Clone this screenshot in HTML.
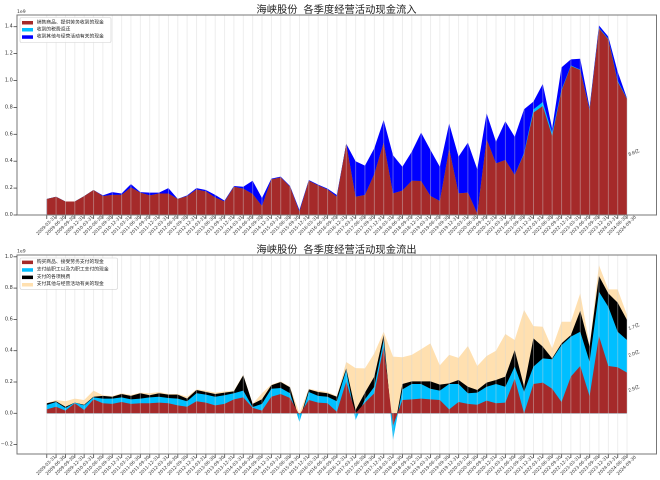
<!DOCTYPE html>
<html><head><meta charset="utf-8"><style>
html,body{margin:0;padding:0;background:#fff;overflow:hidden}
svg{display:block}
.t{font-family:"DejaVu Sans","Liberation Sans",sans-serif;fill:#333}
.cjk{font-family:"Liberation Sans","Noto Sans CJK SC","WenQuanYi Zen Hei",sans-serif}
</style></head><body>
<svg xmlns="http://www.w3.org/2000/svg" width="660" height="480" viewBox="0 0 660 480">
<defs>
<pattern id="grid" patternUnits="userSpaceOnUse" x="46.3" y="0" width="9.36" height="480"><rect x="0" y="0" width="0.8" height="480" fill="#d4d4d4"/></pattern>
<pattern id="tick" patternUnits="userSpaceOnUse" x="46.3" y="0" width="9.36" height="480"><rect x="0" y="0" width="0.8" height="480" fill="#444"/></pattern>
</defs>
<rect width="660" height="480" fill="#fff"/>

<!-- ============ TOP CHART ============ -->
<text class="cjk" x="336.5" y="13" font-size="10.3" text-anchor="middle" fill="#222">海峡股份&#160;&#160;各季度经营活动现金流入</text>
<g transform="translate(46.7,215) scale(9.36,-134.5)">
<polygon fill="#0000ff" points="0,0 0,.119 1,.136 2,.100 3,.100 4,.140 5,.186 6,.146 7,.170 8,.160 9,.230 10,.170 11,.166 12,.166 13,.200 14,.120 15,.146 16,.200 17,.186 18,.150 19,.107 20,.216 21,.210 22,.255 23,.126 24,.270 25,.285 26,.216 27,.037 28,.260 29,.226 30,.196 31,.149 32,.530 33,.400 34,.367 35,.496 36,.706 37,.444 38,.359 39,.470 40,.612 41,.483 42,.359 43,.680 44,.434 45,.538 46,.340 47,.756 48,.545 49,.696 50,.582 51,.786 52,.843 53,.974 54,.644 55,1.098 56,1.157 57,1.162 58,.800 59,1.410 60,1.326 61,1.066 62,.867 62,0"/>
<polygon fill="#00bfff" points="0,0 0,.119 1,.136 2,.100 3,.100 4,.140 5,.186 6,.140 7,.150 8,.150 9,.205 10,.166 11,.146 12,.160 13,.160 14,.120 15,.140 16,.190 17,.176 18,.130 19,.100 20,.210 21,.196 22,.156 23,.067 24,.265 25,.280 26,.210 27,.025 28,.255 29,.220 30,.190 31,.136 32,.530 33,.136 34,.149 35,.305 36,.538 37,.161 38,.181 39,.255 40,.253 41,.141 42,.104 43,.493 44,.161 45,.166 46,.012 47,.563 48,.384 49,.409 50,.297 51,.462 52,.785 53,.840 54,.610 55,.932 56,1.112 57,1.082 58,.784 59,1.392 60,1.310 61,1.000 62,.865 62,0"/>
<polygon fill="#a52a2a" points="0,0 0,.119 1,.136 2,.100 3,.100 4,.140 5,.186 6,.140 7,.150 8,.150 9,.205 10,.166 11,.146 12,.160 13,.160 14,.120 15,.140 16,.190 17,.176 18,.130 19,.100 20,.210 21,.196 22,.156 23,.067 24,.265 25,.280 26,.210 27,.025 28,.255 29,.220 30,.190 31,.136 32,.530 33,.136 34,.149 35,.305 36,.538 37,.161 38,.181 39,.255 40,.253 41,.141 42,.104 43,.493 44,.161 45,.166 46,.012 47,.563 48,.384 49,.409 50,.297 51,.454 52,.761 53,.810 54,.587 55,.924 56,1.108 57,1.078 58,.780 59,1.388 60,1.306 61,.991 62,.862 62,0"/>
</g>
<rect x="46" y="15" width="582" height="200" fill="url(#grid)" opacity="0.5"/>
<rect x="17" y="15" width="639.5" height="200" fill="none" stroke="#777" stroke-width="1"/>
<rect x="46" y="215.5" width="582" height="3.5" fill="url(#tick)"/>
<g stroke="#444" stroke-width="0.8">
<line x1="13.5" x2="17" y1="215" y2="215"/><line x1="13.5" x2="17" y1="188.1" y2="188.1"/><line x1="13.5" x2="17" y1="161.2" y2="161.2"/><line x1="13.5" x2="17" y1="134.3" y2="134.3"/><line x1="13.5" x2="17" y1="107.4" y2="107.4"/><line x1="13.5" x2="17" y1="80.5" y2="80.5"/><line x1="13.5" x2="17" y1="53.6" y2="53.6"/><line x1="13.5" x2="17" y1="26.7" y2="26.7"/>
</g>
<g class="t" font-size="5" text-anchor="end" dominant-baseline="central">
<text x="12.8" y="215">0.0</text><text x="12.8" y="188.1">0.2</text><text x="12.8" y="161.2">0.4</text><text x="12.8" y="134.3">0.6</text><text x="12.8" y="107.4">0.8</text><text x="12.8" y="80.5">1.0</text><text x="12.8" y="53.6">1.2</text><text x="12.8" y="26.7">1.4</text>
</g>
<text class="t" x="17" y="13" font-size="4.6">1e9</text>
<g class="t" font-size="4.4" text-anchor="middle" dominant-baseline="central">
<text transform="translate(46.70,226)rotate(-45)">2009-03-31</text><text transform="translate(56.06,226)rotate(-45)">2009-06-30</text><text transform="translate(65.42,226)rotate(-45)">2009-09-30</text><text transform="translate(74.78,226)rotate(-45)">2009-12-31</text><text transform="translate(84.14,226)rotate(-45)">2010-03-31</text><text transform="translate(93.50,226)rotate(-45)">2010-06-30</text><text transform="translate(102.86,226)rotate(-45)">2010-09-30</text><text transform="translate(112.22,226)rotate(-45)">2010-12-31</text><text transform="translate(121.58,226)rotate(-45)">2011-03-31</text><text transform="translate(130.94,226)rotate(-45)">2011-06-30</text><text transform="translate(140.30,226)rotate(-45)">2011-09-30</text><text transform="translate(149.66,226)rotate(-45)">2011-12-31</text><text transform="translate(159.02,226)rotate(-45)">2012-03-31</text><text transform="translate(168.38,226)rotate(-45)">2012-06-30</text><text transform="translate(177.74,226)rotate(-45)">2012-09-30</text><text transform="translate(187.10,226)rotate(-45)">2012-12-31</text><text transform="translate(196.46,226)rotate(-45)">2013-03-31</text><text transform="translate(205.82,226)rotate(-45)">2013-06-30</text><text transform="translate(215.18,226)rotate(-45)">2013-09-30</text><text transform="translate(224.54,226)rotate(-45)">2013-12-31</text><text transform="translate(233.90,226)rotate(-45)">2014-03-31</text><text transform="translate(243.26,226)rotate(-45)">2014-06-30</text><text transform="translate(252.62,226)rotate(-45)">2014-09-30</text><text transform="translate(261.98,226)rotate(-45)">2014-12-31</text><text transform="translate(271.34,226)rotate(-45)">2015-03-31</text><text transform="translate(280.70,226)rotate(-45)">2015-06-30</text><text transform="translate(290.06,226)rotate(-45)">2015-09-30</text><text transform="translate(299.42,226)rotate(-45)">2015-12-31</text><text transform="translate(308.78,226)rotate(-45)">2016-03-31</text><text transform="translate(318.14,226)rotate(-45)">2016-06-30</text><text transform="translate(327.50,226)rotate(-45)">2016-09-30</text><text transform="translate(336.86,226)rotate(-45)">2016-12-31</text><text transform="translate(346.22,226)rotate(-45)">2017-03-31</text><text transform="translate(355.58,226)rotate(-45)">2017-06-30</text><text transform="translate(364.94,226)rotate(-45)">2017-09-30</text><text transform="translate(374.30,226)rotate(-45)">2017-12-31</text><text transform="translate(383.66,226)rotate(-45)">2018-03-31</text><text transform="translate(393.02,226)rotate(-45)">2018-06-30</text><text transform="translate(402.38,226)rotate(-45)">2018-09-30</text><text transform="translate(411.74,226)rotate(-45)">2018-12-31</text><text transform="translate(421.10,226)rotate(-45)">2019-03-31</text><text transform="translate(430.46,226)rotate(-45)">2019-06-30</text><text transform="translate(439.82,226)rotate(-45)">2019-09-30</text><text transform="translate(449.18,226)rotate(-45)">2019-12-31</text><text transform="translate(458.54,226)rotate(-45)">2020-03-31</text><text transform="translate(467.90,226)rotate(-45)">2020-06-30</text><text transform="translate(477.26,226)rotate(-45)">2020-09-30</text><text transform="translate(486.62,226)rotate(-45)">2020-12-31</text><text transform="translate(495.98,226)rotate(-45)">2021-03-31</text><text transform="translate(505.34,226)rotate(-45)">2021-06-30</text><text transform="translate(514.70,226)rotate(-45)">2021-09-30</text><text transform="translate(524.06,226)rotate(-45)">2021-12-31</text><text transform="translate(533.42,226)rotate(-45)">2022-03-31</text><text transform="translate(542.78,226)rotate(-45)">2022-06-30</text><text transform="translate(552.14,226)rotate(-45)">2022-09-30</text><text transform="translate(561.50,226)rotate(-45)">2022-12-31</text><text transform="translate(570.86,226)rotate(-45)">2023-03-31</text><text transform="translate(580.22,226)rotate(-45)">2023-06-30</text><text transform="translate(589.58,226)rotate(-45)">2023-09-30</text><text transform="translate(598.94,226)rotate(-45)">2023-12-31</text><text transform="translate(608.30,226)rotate(-45)">2024-03-31</text><text transform="translate(617.66,226)rotate(-45)">2024-06-30</text><text transform="translate(627.02,226)rotate(-45)">2024-09-30</text>
</g>
<text class="t cjk" transform="translate(629,156)rotate(-20)" font-size="4.8" fill="#444">8.6亿</text>
<!-- legend top -->
<rect x="20" y="17.5" width="91" height="25" rx="1.5" fill="#fff" fill-opacity="0.85" stroke="#d0d0d0" stroke-width="0.6"/>
<rect x="22" y="21" width="11" height="3.5" fill="#a52a2a"/>
<rect x="22" y="28" width="11" height="3.5" fill="#00bfff"/>
<rect x="22" y="35.3" width="11" height="3.5" fill="#0000ff"/>
<g class="cjk" font-size="4.8" fill="#222" dominant-baseline="central">
<text x="36.7" y="22.8">销售商品、提供劳务收到的现金</text>
<text x="36.7" y="29.8">收到的税费返还</text>
<text x="36.7" y="37.1">收到其他与经营活动有关的现金</text>
</g>

<!-- ============ BOTTOM CHART ============ -->
<text class="cjk" x="336.5" y="253" font-size="10.3" text-anchor="middle" fill="#222">海峡股份&#160;&#160;各季度经营活动现金流出</text>
<g transform="translate(46.7,413.3) scale(9.36,-156.5)">
<polygon fill="#ffe0b0" points="0,0 0,.064 1,.085 2,.077 3,.094 4,.085 5,.145 6,.115 7,.110 8,.128 9,.117 10,.132 11,.128 12,.136 13,.123 14,.123 15,.106 16,.153 17,.145 18,.132 19,.140 20,.145 21,.247 22,.06 23,.128 24,.183 25,.204 26,.170 27,0 28,.157 29,.145 30,.136 31,.110 32,.328 33,.289 34,.287 35,.383 36,.521 37,.362 38,.358 39,.373 40,.409 41,.447 42,.306 43,.373 44,.354 45,.430 46,.302 47,.366 48,.400 49,.507 50,.468 51,.660 52,.557 53,.553 54,.415 55,.585 56,.585 57,.766 58,.437 59,.947 60,.792 61,.792 62,.628 62,0"/>
<polygon fill="#000000" points="0,0 0,.064 1,.077 2,.042 3,.068 4,.055 5,.106 6,.111 7,.106 8,.123 9,.111 10,.128 11,.115 12,.128 13,.119 14,.119 15,.094 16,.149 17,.136 18,.123 19,.132 20,.140 21,.243 22,.06 23,.09 24,.179 25,.200 26,.166 27,-.045 28,.153 29,.136 30,.128 31,.106 32,.287 33,.021 34,.132 35,.234 36,.500 37,-.15 38,.187 39,.204 40,.204 41,.204 42,.183 43,.191 44,.213 45,.170 46,.149 47,.196 48,.213 49,.234 50,.404 51,.170 52,.479 53,.426 54,.351 55,.447 56,.50 57,.655 58,.426 59,.877 60,.766 61,.707 62,.596 62,0"/>
<polygon fill="#00bfff" points="0,0 0,.053 1,.072 2,.034 3,.068 4,.051 5,.102 6,.094 7,.094 8,.102 9,.089 10,.094 11,.102 12,.106 13,.098 14,.094 15,.077 16,.128 17,.119 18,.106 19,.115 20,.128 21,.145 22,.04 23,.060 24,.157 25,.162 26,.128 27,-.055 28,.136 29,.111 30,.106 31,.077 32,.277 33,-.043 34,.089 35,.170 36,.468 37,-.17 38,.153 39,.187 40,.187 41,.157 42,.145 43,.187 44,.187 45,.128 46,.132 47,.170 48,.187 49,.170 50,.298 51,.138 52,.298 53,.351 54,.345 55,.436 56,.49 57,.521 58,.330 59,.777 60,.681 61,.521 62,.468 62,0"/>
<polygon fill="#a52a2a" points="0,0 0,.025 1,.042 2,.017 3,.064 4,.021 5,.089 6,.064 7,.060 8,.072 9,.060 10,.064 11,.064 12,.068 13,.064 14,.051 15,.042 16,.077 17,.068 18,.051 19,.060 20,.089 21,.102 22,.035 23,.017 24,.106 25,.123 26,.098 27,-.01 28,.085 29,.068 30,.064 31,.010 32,.202 33,0 34,.068 35,.128 36,.426 37,-.08 38,.085 39,.089 40,.094 41,.089 42,.085 43,.025 44,.072 45,.060 46,.055 47,.081 48,.064 49,.068 50,.221 51,0 52,.187 53,.196 54,.157 55,.072 56,.234 57,.302 58,.110 59,.494 60,.302 61,.294 62,.260 62,0"/>
</g>
<rect x="46" y="255" width="582" height="199" fill="url(#grid)" opacity="0.5"/>
<rect x="17" y="255" width="639.5" height="199" fill="none" stroke="#777" stroke-width="1"/>
<rect x="46" y="454.5" width="582" height="3.5" fill="url(#tick)"/>
<g stroke="#444" stroke-width="0.8">
<line x1="13.5" x2="17" y1="256.8" y2="256.8"/><line x1="13.5" x2="17" y1="288.1" y2="288.1"/><line x1="13.5" x2="17" y1="319.4" y2="319.4"/><line x1="13.5" x2="17" y1="350.7" y2="350.7"/><line x1="13.5" x2="17" y1="382" y2="382"/><line x1="13.5" x2="17" y1="413.3" y2="413.3"/><line x1="13.5" x2="17" y1="444.6" y2="444.6"/>
</g>
<g class="t" font-size="5" text-anchor="end" dominant-baseline="central">
<text x="12.8" y="256.8">1.0</text><text x="12.8" y="288.1">0.8</text><text x="12.8" y="319.4">0.6</text><text x="12.8" y="350.7">0.4</text><text x="12.8" y="382">0.2</text><text x="12.8" y="413.3">0.0</text><text x="12.8" y="444.6">−0.2</text>
</g>
<text class="t" x="17" y="252.5" font-size="4.6">1e9</text>
<g class="t" font-size="4.4" text-anchor="middle" dominant-baseline="central">
<text transform="translate(46.70,466)rotate(-45)">2009-03-31</text><text transform="translate(56.06,466)rotate(-45)">2009-06-30</text><text transform="translate(65.42,466)rotate(-45)">2009-09-30</text><text transform="translate(74.78,466)rotate(-45)">2009-12-31</text><text transform="translate(84.14,466)rotate(-45)">2010-03-31</text><text transform="translate(93.50,466)rotate(-45)">2010-06-30</text><text transform="translate(102.86,466)rotate(-45)">2010-09-30</text><text transform="translate(112.22,466)rotate(-45)">2010-12-31</text><text transform="translate(121.58,466)rotate(-45)">2011-03-31</text><text transform="translate(130.94,466)rotate(-45)">2011-06-30</text><text transform="translate(140.30,466)rotate(-45)">2011-09-30</text><text transform="translate(149.66,466)rotate(-45)">2011-12-31</text><text transform="translate(159.02,466)rotate(-45)">2012-03-31</text><text transform="translate(168.38,466)rotate(-45)">2012-06-30</text><text transform="translate(177.74,466)rotate(-45)">2012-09-30</text><text transform="translate(187.10,466)rotate(-45)">2012-12-31</text><text transform="translate(196.46,466)rotate(-45)">2013-03-31</text><text transform="translate(205.82,466)rotate(-45)">2013-06-30</text><text transform="translate(215.18,466)rotate(-45)">2013-09-30</text><text transform="translate(224.54,466)rotate(-45)">2013-12-31</text><text transform="translate(233.90,466)rotate(-45)">2014-03-31</text><text transform="translate(243.26,466)rotate(-45)">2014-06-30</text><text transform="translate(252.62,466)rotate(-45)">2014-09-30</text><text transform="translate(261.98,466)rotate(-45)">2014-12-31</text><text transform="translate(271.34,466)rotate(-45)">2015-03-31</text><text transform="translate(280.70,466)rotate(-45)">2015-06-30</text><text transform="translate(290.06,466)rotate(-45)">2015-09-30</text><text transform="translate(299.42,466)rotate(-45)">2015-12-31</text><text transform="translate(308.78,466)rotate(-45)">2016-03-31</text><text transform="translate(318.14,466)rotate(-45)">2016-06-30</text><text transform="translate(327.50,466)rotate(-45)">2016-09-30</text><text transform="translate(336.86,466)rotate(-45)">2016-12-31</text><text transform="translate(346.22,466)rotate(-45)">2017-03-31</text><text transform="translate(355.58,466)rotate(-45)">2017-06-30</text><text transform="translate(364.94,466)rotate(-45)">2017-09-30</text><text transform="translate(374.30,466)rotate(-45)">2017-12-31</text><text transform="translate(383.66,466)rotate(-45)">2018-03-31</text><text transform="translate(393.02,466)rotate(-45)">2018-06-30</text><text transform="translate(402.38,466)rotate(-45)">2018-09-30</text><text transform="translate(411.74,466)rotate(-45)">2018-12-31</text><text transform="translate(421.10,466)rotate(-45)">2019-03-31</text><text transform="translate(430.46,466)rotate(-45)">2019-06-30</text><text transform="translate(439.82,466)rotate(-45)">2019-09-30</text><text transform="translate(449.18,466)rotate(-45)">2019-12-31</text><text transform="translate(458.54,466)rotate(-45)">2020-03-31</text><text transform="translate(467.90,466)rotate(-45)">2020-06-30</text><text transform="translate(477.26,466)rotate(-45)">2020-09-30</text><text transform="translate(486.62,466)rotate(-45)">2020-12-31</text><text transform="translate(495.98,466)rotate(-45)">2021-03-31</text><text transform="translate(505.34,466)rotate(-45)">2021-06-30</text><text transform="translate(514.70,466)rotate(-45)">2021-09-30</text><text transform="translate(524.06,466)rotate(-45)">2021-12-31</text><text transform="translate(533.42,466)rotate(-45)">2022-03-31</text><text transform="translate(542.78,466)rotate(-45)">2022-06-30</text><text transform="translate(552.14,466)rotate(-45)">2022-09-30</text><text transform="translate(561.50,466)rotate(-45)">2022-12-31</text><text transform="translate(570.86,466)rotate(-45)">2023-03-31</text><text transform="translate(580.22,466)rotate(-45)">2023-06-30</text><text transform="translate(589.58,466)rotate(-45)">2023-09-30</text><text transform="translate(598.94,466)rotate(-45)">2023-12-31</text><text transform="translate(608.30,466)rotate(-45)">2024-03-31</text><text transform="translate(617.66,466)rotate(-45)">2024-06-30</text><text transform="translate(627.02,466)rotate(-45)">2024-09-30</text>
</g>
<g class="t cjk" font-size="4.8" fill="#444">
<text transform="translate(629,330)rotate(-20)">1.7亿</text>
<text transform="translate(629,357)rotate(-20)">2.0亿</text>
<text transform="translate(629,392)rotate(-20)">2.5亿</text>
</g>
<!-- legend bottom -->
<rect x="20" y="258" width="97.5" height="31.3" rx="1.5" fill="#fff" fill-opacity="0.85" stroke="#d0d0d0" stroke-width="0.6"/>
<rect x="22" y="260.6" width="11" height="3.5" fill="#a52a2a"/>
<rect x="22" y="268.2" width="11" height="3.5" fill="#00bfff"/>
<rect x="22" y="275.6" width="11" height="3.5" fill="#000000"/>
<rect x="22" y="283" width="11" height="3.5" fill="#ffe0b0"/>
<g class="cjk" font-size="4.8" fill="#222" dominant-baseline="central">
<text x="36.7" y="262.3">购买商品、接受劳务支付的现金</text>
<text x="36.7" y="270">支付给职工以及为职工支付的现金</text>
<text x="36.7" y="277.3">支付的各项税费</text>
<text x="36.7" y="284.7">支付其他与经营活动有关的现金</text>
</g>
</svg>
</body></html>
